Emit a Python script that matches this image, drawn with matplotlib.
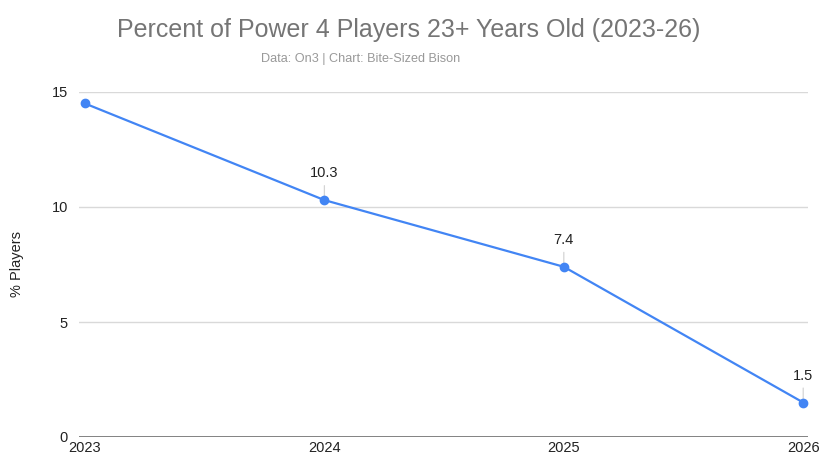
import matplotlib
matplotlib.use('Agg')
import matplotlib.pyplot as plt

plt.rcParams['font.family'] = ['Liberation Sans', 'DejaVu Sans']

years = ['2023', '2024', '2025', '2026']
pct_players = [14.5, 10.3, 7.4, 1.5]
labelled = [False, True, True, True]  # the 2023 label is not shown in the original
y_ticks = [0, 5, 10, 15]

title = 'Percent of Power 4 Players 23+ Years Old (2023-26)'
subtitle = 'Data: On3 | Chart: Bite-Sized Bison'

fig = plt.figure(figsize=(8.26, 4.67), dpi=100)
ax = fig.add_axes([79 / 826, 1 - 437 / 467, (808 - 79) / 826, (437 - 92) / 467])

x = list(range(len(years)))
ax.plot(x, pct_players, color='#4285F4', linewidth=1.6, marker='o', markersize=6, zorder=3)

for xi, val, show in zip(x, pct_players, labelled):
    if not show:
        continue
    ax.annotate('{:.1f}'.format(val), xy=(xi, val), xytext=(0, 27), textcoords='offset pixels',
                ha='center', va='center', fontsize=10.5, color='#222222', zorder=2,
                arrowprops=dict(arrowstyle='-', color='#d4d4d4', lw=0.9, shrinkA=2, shrinkB=0))

ax.set_xlim(-0.025, 3.02)
ax.set_ylim(0, 15)
ax.set_yticks(y_ticks)
ax.set_xticks(x)
ax.set_xticklabels(years)
ax.tick_params(axis='both', length=0, labelsize=10.5, colors='#222222')
ax.tick_params(axis='y', pad=8)
ax.tick_params(axis='x', pad=3)

ax.grid(axis='y', color='#d9d9d9', linewidth=1)
ax.set_axisbelow(True)
for s in ax.spines.values():
    s.set_visible(False)
ax.axhline(0, color='#6f6f6f', linewidth=1.2, zorder=2)

ax.set_ylabel('% Players', fontsize=10.5, color='#222222', labelpad=20)

fig.text(0.495, 1 - 30 / 467, title, ha='center', va='center', fontsize=18, color='#757575')
fig.text(0.436, 1 - 59 / 467, subtitle, ha='center', va='center', fontsize=9.1, color='#999999')

fig.savefig('out.png', dpi=100)
